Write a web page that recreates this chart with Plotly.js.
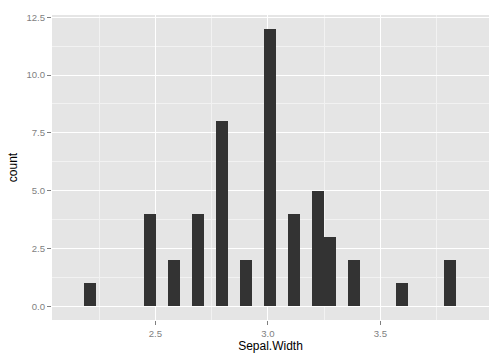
<!DOCTYPE html>
<html>
<head>
<meta charset="utf-8">
<script src="https://cdn.plot.ly/plotly-3.0.1.min.js"></script>
<style>html,body{margin:0;padding:0;background:#fff;}#chart{width:504px;height:360px;}</style>
</head>
<body>
<div id="chart"></div>
<script>
// Histogram of Sepal.Width (bin centers) and counts
var binCenters = [2.209, 2.476, 2.582, 2.689, 2.796, 2.902, 3.009, 3.116, 3.222, 3.276, 3.382, 3.596, 3.809];
var counts     = [1, 4, 2, 4, 8, 2, 12, 4, 5, 3, 2, 1, 2];
var binWidth = 0.0533;
var xTickVals = [2.5, 3.0, 3.5];
var yTickVals = [0, 2.5, 5, 7.5, 10, 12.5];

var trace = {
  type: 'bar',
  x: binCenters,
  y: counts,
  width: binWidth,
  marker: {color: '#333333', line: {width: 0}},
  hoverinfo: 'x+y'
};

var tickFont = {family: 'Liberation Sans, Arial, sans-serif', size: 9.6, color: '#7f7f7f'};
var titleFont = {family: 'Liberation Sans, Arial, sans-serif', size: 12, color: '#000000'};

var layout = {
  width: 504, height: 360,
  margin: {l: 52, r: 15, t: 15, b: 40, pad: 0},
  paper_bgcolor: '#ffffff',
  plot_bgcolor: '#e5e5e5',
  showlegend: false,
  bargap: 0,
  xaxis: {
    range: [2.040, 3.983],
    tickvals: xTickVals,
    tickformat: '.1f',
    ticks: 'outside', ticklen: 4, tickwidth: 1, tickcolor: '#7f7f7f',
    showgrid: true, gridcolor: '#ffffff', gridwidth: 1,
    minor: {dtick: 0.5, tick0: 2.25, showgrid: true, gridcolor: '#f2f2f2', gridwidth: 1, ticks: ''},
    zeroline: false, showline: false,
    tickfont: tickFont,
    title: {text: 'Sepal.Width', font: titleFont, standoff: 4},
    automargin: false
  },
  yaxis: {
    range: [-0.6, 12.6],
    tickvals: yTickVals,
    tickformat: '.1f',
    ticks: 'outside', ticklen: 4, tickwidth: 1, tickcolor: '#7f7f7f',
    showgrid: true, gridcolor: '#ffffff', gridwidth: 1,
    minor: {dtick: 2.5, tick0: 1.25, showgrid: true, gridcolor: '#f2f2f2', gridwidth: 1, ticks: ''},
    zeroline: false, showline: false,
    tickfont: tickFont,
    title: {text: 'count', font: titleFont, standoff: 6},
    automargin: false
  }
};

Plotly.newPlot('chart', [trace], layout, {displayModeBar: false, staticPlot: true});
</script>
</body>
</html>
